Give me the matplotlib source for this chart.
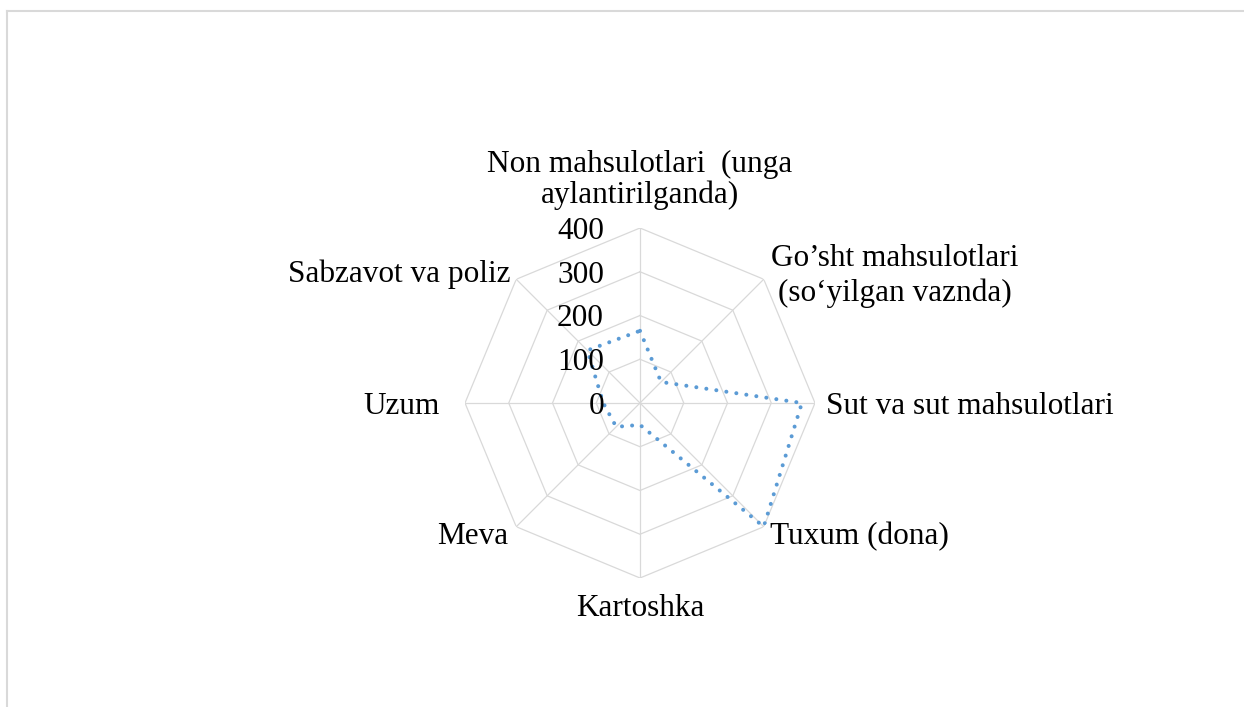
import numpy as np
import matplotlib
matplotlib.use("Agg")
import matplotlib.pyplot as plt
from matplotlib.lines import Line2D

plt.rcParams['font.family'] = ['Liberation Serif', 'DejaVu Serif']

# categories clockwise from the top
categories = ["Non mahsulotlari  (unga\naylantirilganda)",
              "Go\u2019sht mahsulotlari\n(so\u2018yilgan vaznda)",
              "Sut va sut mahsulotlari",
              "Tuxum (dona)",
              "Kartoshka",
              "Meva",
              "Uzum",
              "Sabzavot va poliz"]
values = [165, 68, 370, 400, 50, 77, 84, 170]
rings = [100, 200, 300, 400]
ring_labels = ["0", "100", "200", "300", "400"]

W, H = 1244, 707
fig = plt.figure(figsize=(W / 100, H / 100), dpi=100)

# center at (640, 403) px, 400 ring radius ~175 px
cx, cy, rad = 640, 403, 175
ax = fig.add_axes([(cx - rad) / W, (H - cy - rad) / H, 2 * rad / W, 2 * rad / H], projection='polar')
ax.set_theta_zero_location('N')
ax.set_theta_direction(-1)
ax.set_ylim(0, 400)
ax.grid(False)
ax.spines['polar'].set_visible(False)
ax.set_xticks([])
ax.set_yticks([])
ax.patch.set_alpha(0)

n = len(categories)
ang = np.arange(n) * 2 * np.pi / n
ang_c = np.append(ang, ang[0])

grid_col = '#d9d9d9'
for r in rings:
    ax.plot(ang_c, [r] * (n + 1), color=grid_col, lw=0.9, zorder=1)
for a in ang:
    ax.plot([a, a], [0, 400], color=grid_col, lw=0.9, zorder=1)

vals_c = values + values[:1]
ax.plot(ang_c, vals_c, color='#5b9bd5', lw=2.9, linestyle=(0, (0.01, 2.5)),
        dash_capstyle='round', zorder=3)

fs = 22.5
# radial labels, right of text ~36 px left of the center
for i, lab in enumerate(ring_labels):
    ax.annotate(lab, xy=(0, i * 100), xytext=(-36, -11), textcoords='offset pixels',
                ha='right', va='baseline', fontsize=fs, zorder=4)

# category labels: offset in pixels from the outer vertex (baseline of last line)
offsets = [(0, 25, 'center'), (131, -22, 'center'), (11, -11, 'left'), (6, -17, 'left'),
           (0, -38, 'center'), (-8, -17, 'right'), (-25, -11, 'right'), (-6, -3, 'right')]
for a, lab, (dx, dy, ha) in zip(ang, categories, offsets):
    ls = 1.05 if lab.startswith("Non") else 1.26
    ax.annotate(lab, xy=(a, 400), xytext=(dx, dy), textcoords='offset pixels',
                ha=ha, va='baseline', fontsize=fs, multialignment='center',
                linespacing=ls, annotation_clip=False)

# light frame on top and left
fig.add_artist(Line2D([7 / W, 1], [1 - 11 / H, 1 - 11 / H], color='#d9d9d9', lw=1.5))
fig.add_artist(Line2D([7 / W, 7 / W], [0, 1 - 11 / H], color='#d9d9d9', lw=1.5))

fig.savefig("out.png", dpi=100, facecolor='white')
